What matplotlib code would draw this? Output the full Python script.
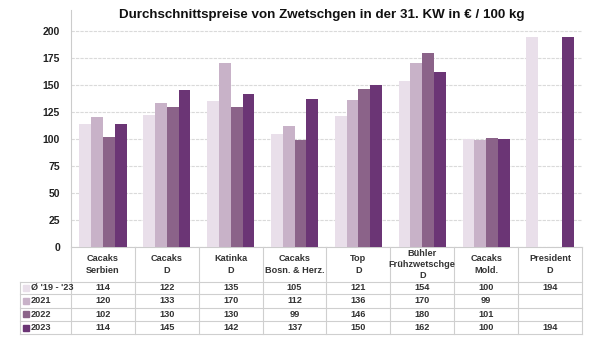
import numpy as np
import matplotlib.pyplot as plt
from matplotlib.patches import Rectangle

plt.rcParams['font.family'] = ['Liberation Sans Narrow', 'Liberation Sans', 'DejaVu Sans']

categories = ["Cacaks\nSerbien", "Cacaks\nD", "Katinka\nD", "Cacaks\nBosn. & Herz.",
              "Top\nD", "Bühler\nFrühzwetschge\nD", "Cacaks\nMold.", "President\nD"]
series_names = ["Ø '19 - '23", "2021", "2022", "2023"]
avg_19_23 = [114, 122, 135, 105, 121, 154, 100, 194]
y2021 = [120, 133, 170, 112, 136, 170, 99, None]
y2022 = [102, 130, 130, 99, 146, 180, 101, None]
y2023 = [114, 145, 142, 137, 150, 162, 100, 194]
colors = ['#E9DFEA', '#C8B2C8', '#8B6389', '#6B3575']

series = [avg_19_23, y2021, y2022, y2023]

W, H = 600, 340
fig = plt.figure(figsize=(6, 3.4), dpi=100)

def px_box(x0, y0, x1, y1):
    # pixel box (top-left origin) -> figure fraction rect
    return [x0 / W, 1 - y1 / H, (x1 - x0) / W, (y1 - y0) / H]

ax = fig.add_axes(px_box(71, 10, 582, 247))
n = len(categories)
x = np.arange(n)
bw = 0.185
for i, (vals, c) in enumerate(zip(series, colors)):
    xs = [xi + (i - 1.5) * bw for xi, v in zip(x, vals) if v is not None]
    hs = [v for v in vals if v is not None]
    ax.bar(xs, hs, width=bw, color=c, zorder=3)

ax.set_xlim(-0.5, n - 0.5)
ax.set_ylim(0, 219.4)
ax.set_yticks(range(0, 201, 25))
ax.yaxis.grid(True, color='#dadada', linestyle=(0, (3, 1)), linewidth=0.8, zorder=0)
ax.tick_params(axis='y', length=0, labelsize=7.5, colors='#222222', pad=8)
for lbl in ax.get_yticklabels():
    lbl.set_fontweight('bold')
ax.set_xticks([])
for s in ['top', 'right']:
    ax.spines[s].set_visible(False)
ax.spines['left'].set_color('#cccccc')
ax.spines['bottom'].set_color('#cccccc')

fig.text(0.537, 0.955, "Durchschnittspreise von Zwetschgen in der 31. KW in € / 100 kg",
         ha='center', va='center', fontsize=9.6, fontweight='bold', color='#111111')

# table below the bars
tx0 = -0.5 - 51 / 63.875
tab = fig.add_axes(px_box(20, 247, 582, 335))
tab.set_xlim(tx0, n - 0.5)
tab.set_ylim(88, 0)
tab.axis('off')
line_c = '#cfcfcf'
bounds = [34.7, 47.2, 60.7, 74.0, 87.3]
for b in bounds:
    tab.plot([tx0, n - 0.5], [b, b], color=line_c, linewidth=0.8, clip_on=False)
for k in range(n + 1):
    tab.plot([k - 0.5, k - 0.5], [0, bounds[-1]], color=line_c, linewidth=0.8, clip_on=False)
tab.plot([tx0, tx0], [bounds[0], bounds[-1]], color=line_c, linewidth=0.8, clip_on=False)

for k, cat in enumerate(categories):
    tab.text(k, 17.5, cat, ha='center', va='center', fontsize=6.6, fontweight='bold',
             color='#333333', linespacing=1.3)

for r, (name, vals, c) in enumerate(zip(series_names, series, colors)):
    yc = (bounds[r] + bounds[r + 1]) / 2
    tab.add_patch(Rectangle((tx0 + 0.05, yc - 3), 0.09, 6, color=c, clip_on=False))
    tab.text(tx0 + 0.17, yc, name, ha='left', va='center', fontsize=6.6,
             fontweight='bold', color='#333333')
    for k, v in enumerate(vals):
        if v is not None:
            tab.text(k, yc, str(v), ha='center', va='center', fontsize=6.6,
                     fontweight='bold', color='#333333')

fig.savefig('out.png', dpi=100)
